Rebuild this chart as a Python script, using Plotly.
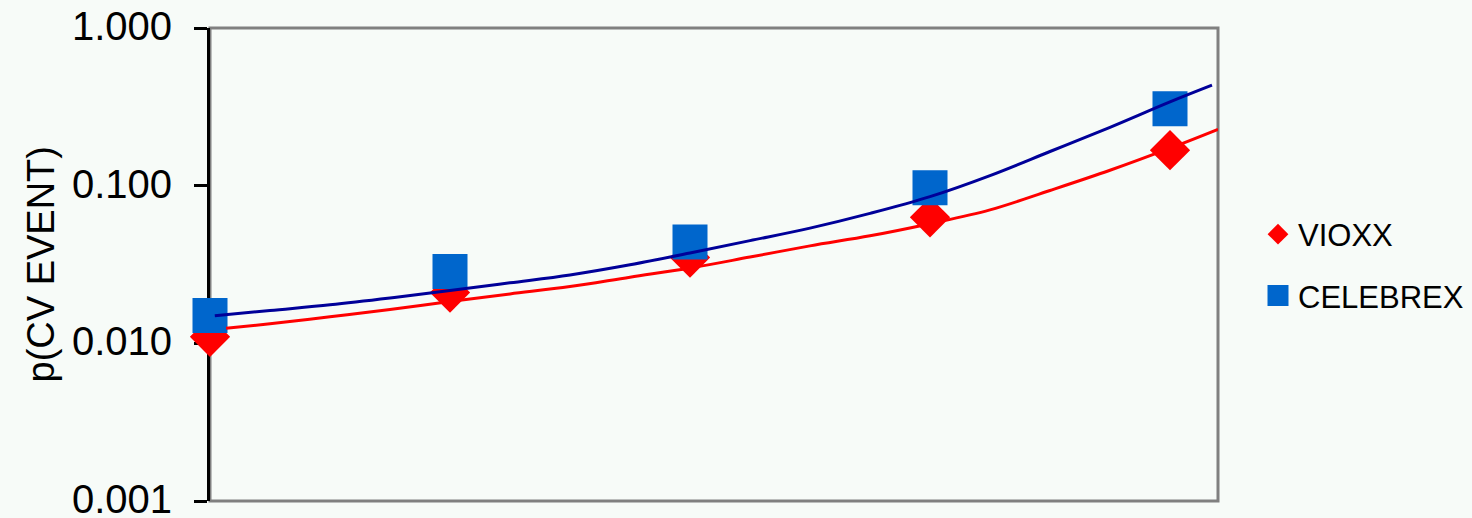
import plotly.graph_objects as go

# ---- data ----
categories = [1, 2, 3, 4, 5]
vioxx = [0.011, 0.021, 0.035, 0.063, 0.168]
celebrex = [0.015, 0.0285, 0.044, 0.097, 0.308]

# trendline curves
vioxx_trend_x = [1.067, 1.25, 1.5, 1.75, 2.0, 2.25, 2.5, 2.75, 3.0, 3.25, 3.5, 3.75, 4.0, 4.25, 4.5, 4.75, 5.0, 5.2]
vioxx_trend_y = [0.01245, 0.01331, 0.01472, 0.01641, 0.01841, 0.02057, 0.02292, 0.02628, 0.03002, 0.03525,
                 0.04152, 0.04811, 0.05741, 0.0702, 0.0932, 0.1252, 0.1729, 0.2278]
celebrex_trend_x = [1.02, 1.25, 1.5, 1.75, 2.0, 2.25, 2.5, 2.75, 3.0, 3.25, 3.5, 3.75, 4.0, 4.25, 4.5, 4.75, 5.0, 5.175]
celebrex_trend_y = [0.01496, 0.01617, 0.01754, 0.01937, 0.0216, 0.0242, 0.02715, 0.0315, 0.0374, 0.0448,
                    0.0538, 0.0667, 0.0852, 0.1159, 0.1647, 0.2346, 0.340, 0.434]

tick_vals = [0.001, 0.01, 0.1, 1]
tick_text = ["0.001", "0.010", "0.100", "1.000"]

BG = "#F7FBF8"
FONT = "Liberation Sans, Arial, sans-serif"

fig = go.Figure()

fig.add_trace(go.Scatter(
    x=categories, y=vioxx, mode="markers", name="VIOXX",
    legendgroup="v",
    marker=dict(symbol="diamond", size=31, color="#FF0000", line=dict(width=0)),
    cliponaxis=False,
))
fig.add_trace(go.Scatter(
    x=categories, y=celebrex, mode="markers", name="CELEBREX",
    legendgroup="c",
    marker=dict(symbol="square", size=30, color="#0066CC", line=dict(width=5, color="#0066CC")),
    cliponaxis=False,
))
fig.add_trace(go.Scatter(
    x=vioxx_trend_x, y=vioxx_trend_y, mode="lines", showlegend=False,
    line=dict(color="#FF0000", width=3, shape="spline", smoothing=1.0),
    hoverinfo="skip",
))
fig.add_trace(go.Scatter(
    x=celebrex_trend_x, y=celebrex_trend_y, mode="lines", showlegend=False,
    line=dict(color="#000099", width=3, shape="spline", smoothing=1.0),
    hoverinfo="skip",
))

fig.update_layout(
    width=1472, height=518, autosize=False,
    margin=dict(l=210, r=254, t=28, b=17, pad=0, autoexpand=False),
    paper_bgcolor=BG, plot_bgcolor=BG,
    font=dict(family=FONT, color="black"),
    showlegend=True,
    legend=dict(
        xref="container", yref="container",
        x=1258 / 1472, xanchor="left", y=1 - 265 / 518, yanchor="middle",
        font=dict(size=31, family=FONT, color="black"),
        bgcolor="rgba(0,0,0,0)", traceorder="grouped", tracegroupgap=18,
        itemclick=False,
    ),
    xaxis=dict(
        range=[1, 5.2], showticklabels=False, ticks="", showgrid=False,
        zeroline=False, showline=False, automargin=False,
    ),
    yaxis=dict(
        type="log", range=[-3.00001, 0.00001],
        tickvals=tick_vals, ticktext=tick_text,
        ticks="outside", ticklen=13, tickwidth=3, tickcolor="black",
        showline=True, linecolor="black", linewidth=3,
        showgrid=False, zeroline=False,
        tickfont=dict(size=40, family=FONT, color="black"),
        ticklabelstandoff=14, ticklabeloverflow="allow", ticklabelshift=-2,
        layer="below traces", automargin=False,
    ),
    shapes=[dict(
        type="rect", xref="paper", yref="paper", x0=0, x1=1, y0=0, y1=1,
        line=dict(color="#808080", width=3), layer="below",
    )],
    annotations=[dict(
        text="p(CV EVENT)", textangle=-90, xref="paper", yref="paper",
        x=(40 - 210) / 1008, y=0.5, xanchor="center", yanchor="middle",
        showarrow=False, font=dict(size=38, family=FONT, color="black"),
    )],
)

fig.write_html("out.html")
